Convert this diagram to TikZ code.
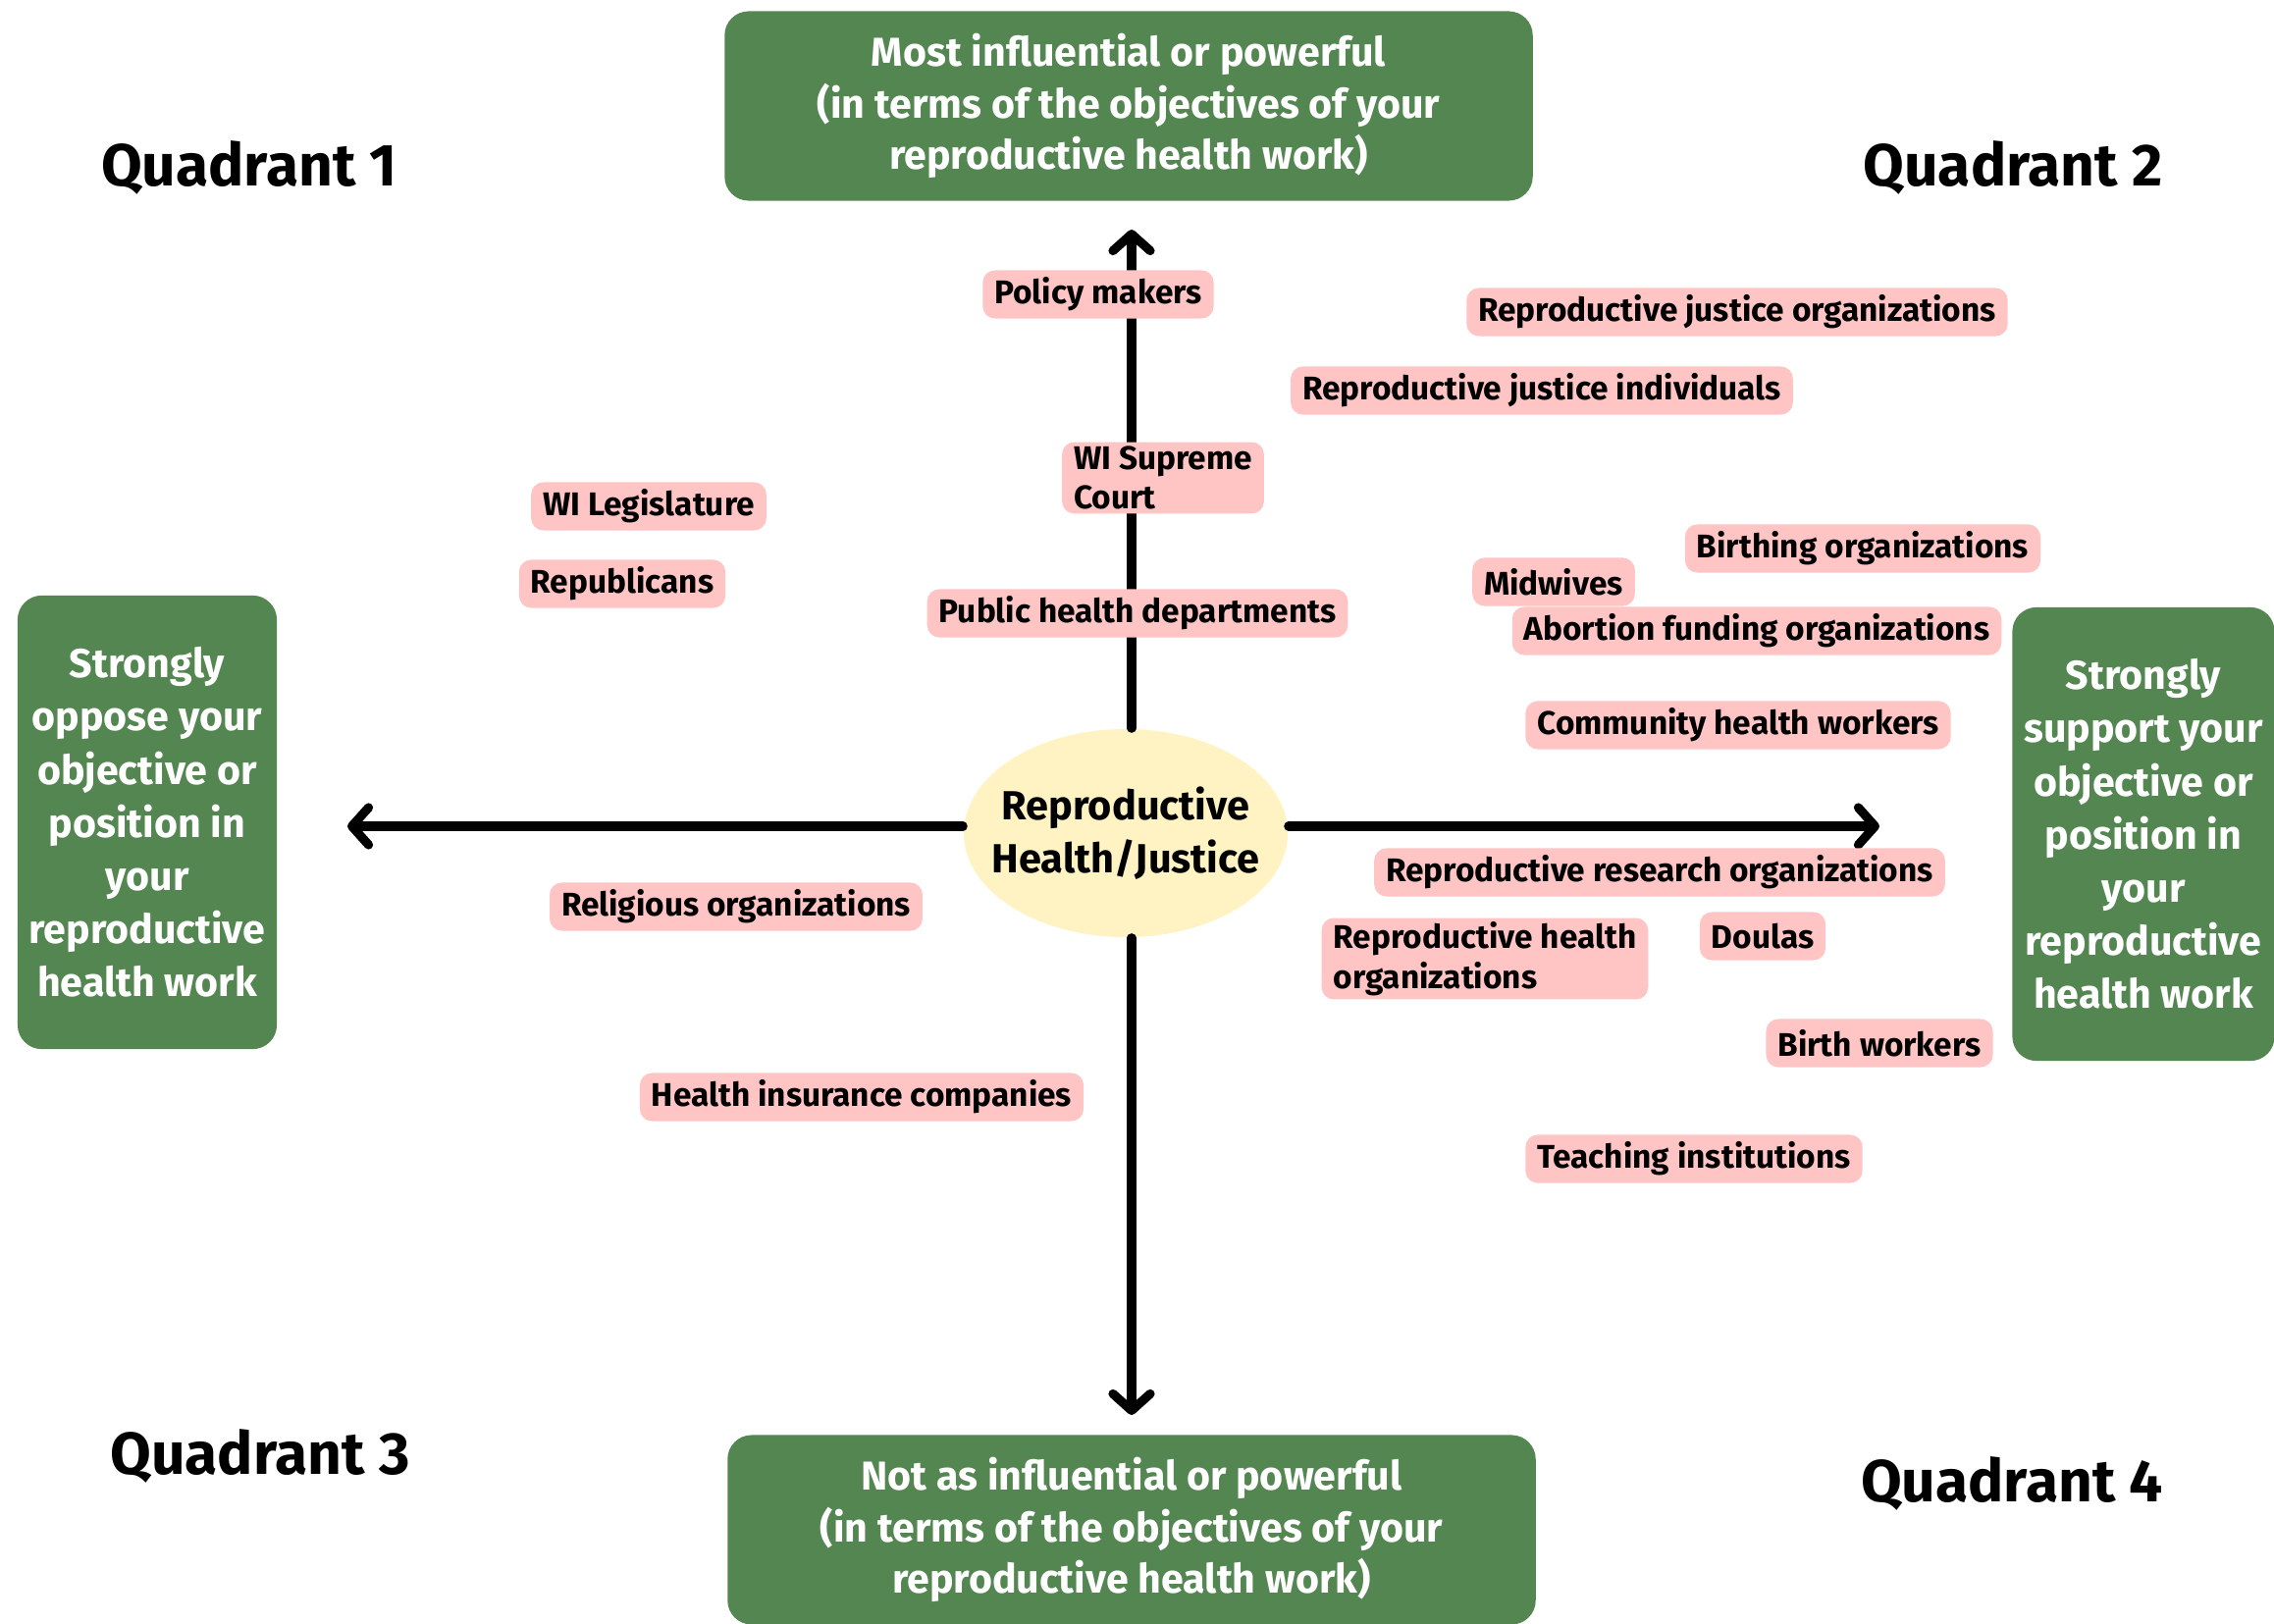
\documentclass[tikz,border=0pt]{standalone}
\usepackage{fontspec}
\setmainfont{Fira Sans}
\usepackage{xcolor}
\usepackage{tikz}
\usetikzlibrary{shapes.geometric, arrows.meta, positioning}
\definecolor{boxgreen}{HTML}{548651}
\definecolor{actorpink}{HTML}{FFC4C4}
\definecolor{hubyellow}{HTML}{FFF3C4}
\tikzset{
  quadlabel/.style={font=\bfseries\fontsize{17.2}{20}\selectfont, text=black},
  powerbox/.style={rectangle, rounded corners=7pt, fill=boxgreen, text=white, minimum width=8.23cm, minimum height=1.93cm, align=center, font=\bfseries\fontsize{11.7}{15}\selectfont},
  stancebox/.style={rectangle, rounded corners=7pt, fill=boxgreen, text=white, minimum width=2.56cm, minimum height=4.62cm, align=center, font=\bfseries\fontsize{11.7}{15.4}\selectfont},
  actor/.style={rectangle, rounded corners=3.5pt, fill=actorpink, minimum height=0.49cm, inner xsep=0.12cm, inner ysep=0.04cm, align=left, font=\bfseries\fontsize{9.5}{11.5}\selectfont},
  hub/.style={ellipse, fill=hubyellow, minimum width=3.3cm, minimum height=2.12cm, align=center, inner xsep=-0.2cm, inner ysep=0pt, font=\bfseries\fontsize{11.8}{15.5}\selectfont},
  axis/.style={-{Straight Barb[length=1.7mm, width=3.8mm, line cap=round, line join=round]}, line width=2.6pt, line cap=round},
}
\begin{document}
\begin{tikzpicture}[x=0.01cm, y=-0.01cm]
\useasboundingbox (0,0) rectangle (2317,1655);
% quadrant titles
\node[quadlabel] (q1) at (254,171) {Quadrant 1};
\node[quadlabel] (q2) at (2051,171) {Quadrant 2};
\node[quadlabel] (q3) at (265,1484) {Quadrant 3};
\node[quadlabel] (q4) at (2050,1512) {Quadrant 4};
% frame boxes
\node[powerbox] (most) at (1150,108) {Most influential or powerful\\(in terms of the objectives of your\\reproductive health work)};
\node[powerbox] (least) at (1153,1559) {Not as influential or powerful\\(in terms of the objectives of your\\reproductive health work)};
\node[stancebox] (oppose) at (150,838) {Strongly\\oppose your\\objective or\\position in\\your\\reproductive\\health work};
\node[stancebox] (support) at (2184,850) {Strongly\\support your\\objective or\\position in\\your\\reproductive\\health work};
% axes
\node[hub] (hub) at (1147,849) {Reproductive\\Health/Justice};
\coordinate (uptip) at (1153,234);
\coordinate (downtip) at (1153,1442);
\coordinate (lefttip) at (354,842);
\coordinate (righttip) at (1915,842);
\draw[axis] (hub.north -| uptip) -- (uptip);
\draw[axis] (hub.south -| downtip) -- (downtip);
\draw[axis] (hub.west |- lefttip) -- (lefttip);
\draw[axis] (hub.east |- righttip) -- (righttip);
% stakeholders
\node[actor] (policy) at (1119,300) {Policy makers};
\node[actor] (rjorg) at (1770,318) {Reproductive justice organizations};
\node[actor] (rjind) at (1571,398) {Reproductive justice individuals};
\node[actor] (court) at (1185,487) {WI Supreme\\Court};
\node[actor] (legis) at (661,516) {WI Legislature};
\node[actor] (repub) at (634,595) {Republicans};
\node[actor] (pubhealth) at (1159,625) {Public health departments};
\node[actor] (birthorg) at (1898,559) {Birthing organizations};
\node[actor] (midwives) at (1583,593) {Midwives};
\node[actor] (abortion) at (1790,643) {Abortion funding organizations};
\node[actor] (chw) at (1771,739) {Community health workers};
\node[actor] (research) at (1691,889) {Reproductive research organizations};
\node[actor] (religious) at (750,924) {Religious organizations};
\node[actor] (rhorg) at (1513,977) {Reproductive health\\organizations};
\node[actor] (doulas) at (1796,954) {Doulas};
\node[actor] (birthwk) at (1915,1063) {Birth workers};
\node[actor] (insurance) at (878,1118) {Health insurance companies};
\node[actor] (teaching) at (1726,1181) {Teaching institutions};
\end{tikzpicture}
\end{document}
